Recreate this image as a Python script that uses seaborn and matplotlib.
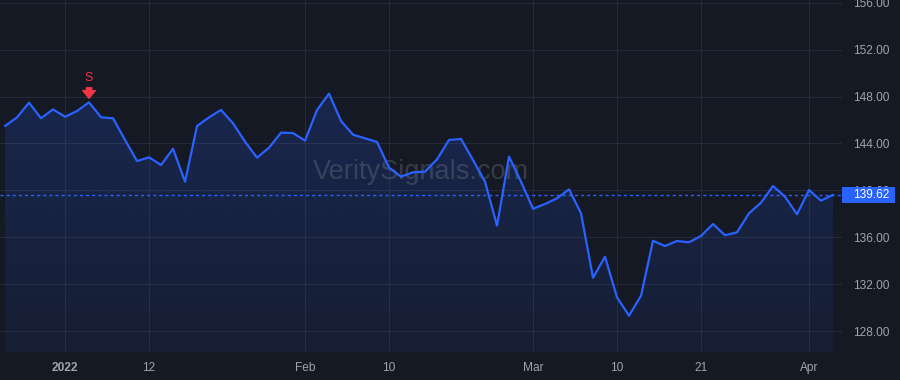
import matplotlib.pyplot as plt
import matplotlib.transforms as mtransforms
from matplotlib.patches import Rectangle
import numpy as np
import pandas as pd
import seaborn as sns

# trading days Dec 27 2021 .. Apr 5 2022 (exchange holidays removed)
HOLIDAYS = ["2022-01-17", "2022-02-21"]
DATES = [d for d in pd.bdate_range("2021-12-27", "2022-04-05") if d.strftime("%Y-%m-%d") not in HOLIDAYS]

CLOSE = [
    145.49, 146.23, 147.48, 146.15, 146.91,
    146.28, 146.77, 147.51, 146.23, 146.15,
    144.30, 142.50, 142.82, 142.16, 143.55,
    140.74, 145.49, 146.23, 146.86,
    145.72, 144.15, 142.79, 143.64, 144.92,
    144.89,
    144.24, 146.86, 148.25, 145.92,
    144.75, 144.44, 144.13, 141.94, 141.17,
    141.54, 141.60, 142.65, 144.30, 144.38,
    142.59, 140.74, 136.99, 142.88,
    140.74,
    138.43, 138.84, 139.32, 140.09,
    138.04, 132.55, 134.34, 130.87, 129.31,
    131.01, 135.70, 135.25, 135.68, 135.57,
    136.11, 137.13, 136.17, 136.42, 138.04,
    138.95, 140.37, 139.46, 137.96,
    140.03, 139.12, 139.62,
]

TICK_DATES = ["2022-01-03", "2022-01-12", "2022-02-01", "2022-02-10",
              "2022-03-01", "2022-03-10", "2022-03-21", "2022-04-01"]
TICK_LABELS = ["2022", "12", "Feb", "10", "Mar", "10", "21", "Apr"]
Y_TICKS = [128, 132, 136, 140, 144, 148, 152, 156]

SIGNAL_DATE = "2022-01-05"
SIGNAL_LABEL = "S"
LAST_PRICE = 139.62
WATERMARK = "VeritySignals.com"

BG = "#151924"
GRID = "#252a36"
BLUE = "#2962ff"
RED = "#f23645"
LABEL = "#a0a3ab"

sns.set_theme(style="dark")
plt.rcParams["font.family"] = ["Liberation Sans", "DejaVu Sans"]

df = pd.DataFrame({"date": DATES, "close": CLOSE})
df["idx"] = np.arange(len(df))
date_pos = {d.strftime("%Y-%m-%d"): i for i, d in enumerate(df["date"])}

fig = plt.figure(figsize=(9, 3.8), dpi=100, facecolor=BG)
ax = fig.add_axes([0, 28 / 380, 842 / 900, 352 / 380])
ax.set_facecolor(BG)

x_lo, x_hi = -0.42, 69.75
y_lo, y_hi = 126.21, 156.24

# gradient area under the line
fill = ax.fill_between(df["idx"], df["close"], y_lo, facecolor="none", edgecolor="none")
grad = np.zeros((256, 1, 4))
grad[..., 0], grad[..., 1], grad[..., 2] = 41 / 255, 98 / 255, 1.0
grad[..., 3] = np.linspace(0.24, 0.07, 256)[:, None]
im = ax.imshow(grad, extent=[x_lo, x_hi, y_lo, y_hi], aspect="auto", origin="upper", zorder=1)
im.set_clip_path(fill.get_paths()[0], transform=ax.transData)

ax.text(0.5, 0.51, WATERMARK, transform=ax.transAxes, ha="center", va="center",
        fontsize=19.5, color="#787b86", alpha=0.35, zorder=1.5)

sns.lineplot(data=df, x="idx", y="close", color=BLUE, linewidth=1.6, ax=ax, zorder=3)

ax.axhline(LAST_PRICE, color=BLUE, linewidth=1.0, linestyle=(0, (2.2, 2.2)), zorder=2)

# sell signal
sig_i = date_pos[SIGNAL_DATE]
sig_v = CLOSE[sig_i]
ax.annotate("", xy=(sig_i, sig_v), xytext=(0, 10.5), textcoords="offset points",
            arrowprops=dict(arrowstyle="simple,head_width=0.75,head_length=0.45,tail_width=0.32",
                            color=RED, shrinkA=0, shrinkB=3.0), zorder=4)
ax.annotate(SIGNAL_LABEL, xy=(sig_i, sig_v), xytext=(0, 13.5), textcoords="offset points",
            ha="center", va="bottom", color=RED, fontsize=9, zorder=4)

ax.set_xlim(x_lo, x_hi)
ax.set_ylim(y_lo, y_hi)
ax.set_xticks([date_pos[d] for d in TICK_DATES])
ax.set_xticklabels(TICK_LABELS)
ax.get_xticklabels()[0].set_fontweight("bold")
ax.set_yticks(Y_TICKS)
ax.set_yticklabels([f"{v:.2f}" for v in Y_TICKS])
ax.yaxis.tick_right()
ax.tick_params(axis="x", length=0, pad=7, labelsize=8.6, labelcolor=LABEL)
ax.tick_params(axis="y", length=0, pad=8, labelsize=8.6, labelcolor=LABEL)
ax.set_xlabel("")
ax.set_ylabel("")
ax.grid(True, color=GRID, linewidth=0.8)
for spine in ax.spines.values():
    spine.set_visible(False)

# last price tag on the axis
blend = mtransforms.blended_transform_factory(ax.transAxes, ax.transData)
px, py = blend.transform((1.0, LAST_PRICE))
ax.add_patch(Rectangle((px, py - 8), 53, 16, transform=mtransforms.IdentityTransform(),
                       facecolor=BLUE, edgecolor="none", clip_on=False, zorder=10))
ax.text(1.0, LAST_PRICE, f"{LAST_PRICE:.2f}", ha="left", va="center", fontsize=8.6, color="white",
        transform=mtransforms.offset_copy(blend, fig=fig, x=11, y=0, units="dots"), zorder=11)

fig.savefig("out.png", dpi=100, facecolor=BG)
